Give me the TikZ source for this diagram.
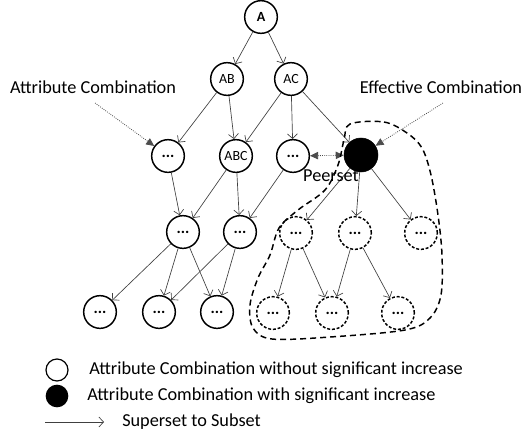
\documentclass[tikz,border=0pt]{standalone}
\usepackage{fontspec}
\setmainfont{Carlito}
\usetikzlibrary{arrows.meta}
\tikzset{
  nd/.style={circle,draw=black,line width=1.1pt,minimum size=24.5pt,inner sep=0pt,font=\fontsize{10.5}{10.5}\selectfont},
  dn/.style={nd,dashed,dash pattern=on 2.2pt off 1.4pt},
  eff/.style={circle,fill=black,draw=black,minimum size=25.5pt,inner sep=0pt},
  ed/.style={draw=black!75,line width=0.5pt,-{Straight Barb[length=3.5pt,width=7.5pt]}},
  pt/.style={draw=black!70,line width=0.6pt,densely dotted,-{Triangle[length=6pt,width=5.5pt]}},
  lbl/.style={font=\fontsize{13.7}{14}\selectfont,inner sep=0pt},
  blob/.style={line width=1.1pt,dash pattern=on 4.5pt off 3pt}
}
\newcommand{\dd}{\raisebox{-2pt}{\fontsize{12}{12}\selectfont\textbf{...}}}
\begin{document}
\begin{tikzpicture}[x=0.75pt,y=-0.75pt]
\useasboundingbox (0,0) rectangle (522,440);
% nodes
\node[nd] (A) at (261,17) {\textbf{A}};
\node[nd] (AB) at (227,79) {AB};
\node[nd] (AC) at (291,79) {AC};
\node[nd] (r31) at (168,156) {\dd};
\node[nd] (ABC) at (236,156) {ABC};
\node[nd] (r33) at (293,156) {\dd};
\node[eff] (E) at (361,155) {};
\node[nd] (r41) at (183,232) {\dd};
\node[nd] (r42) at (240,232) {\dd};
\node[dn] (d41) at (296,233) {\dd};
\node[dn] (d42) at (355,233) {\dd};
\node[dn] (d43) at (421,233) {\dd};
\node[nd] (r51) at (100,312) {\dd};
\node[nd] (r52) at (159,312) {\dd};
\node[nd] (r53) at (217,312) {\dd};
\node[dn] (d51) at (273,313) {\dd};
\node[dn] (d52) at (332,313) {\dd};
\node[dn] (d53) at (398,313) {\dd};
% edges
\foreach \a/\b in {A/AB,A/AC,AB/r31,AB/ABC,AC/ABC,AC/r33,AC/E,
  r31/r41,ABC/r41,ABC/r42,r33/r42,E/d41,E/d42,E/d43,
  r41/r51,r41/r52,r41/r53,r42/r52,r42/r53,
  d41/d51,d41/d52,d42/d52,d42/d53}
  \draw[ed] (\a) -- (\b);
% labels
\node[lbl] (lac) at (93,87) {Attribute Combination};
\node[lbl] (lec) at (441,87) {Effective Combination};
\node[lbl] (lps) at (331,176) {Peerset};
\coordinate (ac0) at (95,103);
\coordinate (ec0) at (443,103);
\draw[pt] (ac0) -- (r31);
\draw[pt] (ec0) -- (E);
\draw[pt,{Triangle[length=6pt,width=5.5pt]}-{Triangle[length=6pt,width=5.5pt]}] (r33) -- (E);
% peerset blob
\draw[blob] plot[smooth cycle,tension=0.55] coordinates {
 (350,124) (384,122) (407,133) (422,148) (431,175) (438,215) (442,255)
 (441,295) (430,318) (405,330) (330,337) (272,339) (253,328) (250,305)
 (258,278) (270,255) (279,228) (298,210) (325,190) (338,165) (344,140)};
% legend
\node[circle,draw=black,line width=0.9pt,minimum size=16.5pt,inner sep=0pt] (lw) at (57,370) {};
\node[circle,fill=black,minimum size=17pt,inner sep=0pt] (lb) at (57,396) {};
\node[lbl,anchor=west] (t1) at (89,370) {Attribute Combination without significant increase};
\node[lbl,anchor=west] (t2) at (87,396) {Attribute Combination with significant increase};
\coordinate (la0) at (45,422);
\coordinate (la1) at (104,422);
\draw[ed] (la0) -- (la1);
\node[lbl,anchor=west] (t3) at (122,422) {Superset to Subset};
\end{tikzpicture}
\end{document}
